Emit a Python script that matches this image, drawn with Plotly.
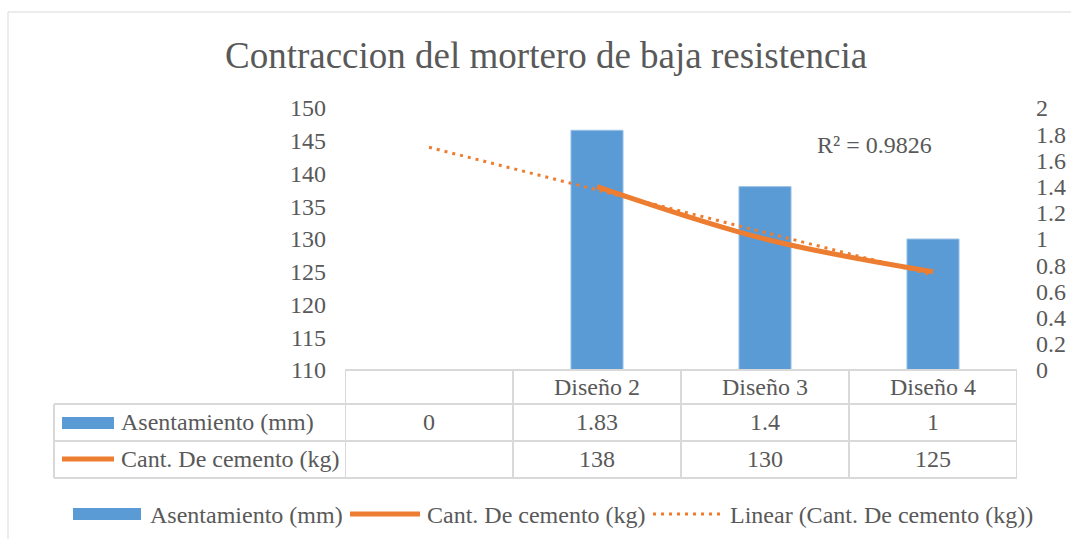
import numpy as np
import plotly.graph_objects as go

# ---- data ----
categories = ["", "Diseño 2", "Diseño 3", "Diseño 4"]
asentamiento = [0, 1.83, 1.4, 1]          # mm (right axis)
cemento = [None, 138, 130, 125]           # kg (left axis)
series_names = ["Asentamiento (mm)", "Cant. De cemento (kg)"]
trend_name = "Linear (Cant. De cemento (kg))"
title_text = "Contraccion del mortero de baja resistencia"

BLUE = "#5B9BD5"
ORANGE = "#ED7D31"
TXT = "#595959"
GRID = "#D9D9D9"
FONT = "Liberation Serif"

W, H = 1071, 539
# plot area in pixel coords
PL, PR, PT, PB = 345, 1017, 108, 370
ML, MR, MT, MB = PL, W - PR, PT, H - PB
PW, PH = PR - PL, PB - PT


def px(x):
    return (x - PL) / PW


def py(y):
    return (PB - y) / PH


xpos = list(range(len(categories)))

# linear trendline (Excel style, x = 1..n)
xs = np.array([i + 1 for i, v in enumerate(cemento) if v is not None], float)
ys = np.array([v for v in cemento if v is not None], float)
slope, intercept = np.polyfit(xs, ys, 1)
pred = slope * xs + intercept
r2 = 1 - np.sum((ys - pred) ** 2) / np.sum((ys - ys.mean()) ** 2)
trend_x = [xpos[0], xpos[-1]]
trend_y = [slope * (xpos[0] + 1) + intercept, slope * (xpos[-1] + 1) + intercept]

fig = go.Figure()
fig.add_trace(go.Bar(x=xpos, y=asentamiento, name=series_names[0],
                     marker=dict(color=BLUE, line=dict(color="#9DC3E6", width=1)),
                     yaxis="y", showlegend=False))
fig.add_trace(go.Scatter(x=xpos, y=cemento, name=series_names[1], mode="lines",
                         line=dict(color=ORANGE, width=5, shape="spline"),
                         yaxis="y2", showlegend=False, connectgaps=False))
fig.add_trace(go.Scatter(x=trend_x, y=trend_y, name=trend_name, mode="lines",
                         line=dict(color=ORANGE, width=3, dash="3px,5px"),
                         yaxis="y2", showlegend=False))

shapes = []
ann = []
lw = 2

# outer chart border
shapes.append(dict(type="rect", xref="paper", yref="paper",
                   x0=px(8), x1=px(1100), y0=py(12), y1=py(600),
                   line=dict(color=GRID, width=1)))

# data table grid
row_lines = [370, 404, 441, 478]
shapes.append(dict(type="line", xref="x", yref="paper", x0=-0.5, x1=len(categories) - 0.5,
                   y0=py(row_lines[0]), y1=py(row_lines[0]), line=dict(color=GRID, width=lw)))
for r in row_lines[1:]:
    shapes.append(dict(type="line", xref="paper", yref="paper", x0=px(54), x1=1,
                       y0=py(r), y1=py(r), line=dict(color=GRID, width=lw)))
for i in range(len(categories) + 1):
    shapes.append(dict(type="line", xref="x", yref="paper", x0=i - 0.5, x1=i - 0.5,
                       y0=py(row_lines[0]), y1=py(row_lines[-1]), line=dict(color=GRID, width=lw)))
shapes.append(dict(type="line", xref="paper", yref="paper", x0=px(54), x1=px(54),
                   y0=py(row_lines[1]), y1=py(row_lines[-1]), line=dict(color=GRID, width=lw)))

font = dict(family=FONT, size=24, color=TXT)
row_centers = [387, 422, 459]
for i, c in enumerate(categories):
    ann.append(dict(x=i, y=py(row_centers[0]), xref="x", yref="paper", text=c,
                    showarrow=False, font=font, xanchor="center", yanchor="middle"))
    ann.append(dict(x=i, y=py(row_centers[1]), xref="x", yref="paper",
                    text=f"{asentamiento[i]:g}", showarrow=False, font=font,
                    xanchor="center", yanchor="middle"))
    v = cemento[i]
    ann.append(dict(x=i, y=py(row_centers[2]), xref="x", yref="paper",
                    text="" if v is None else f"{v:g}", showarrow=False, font=font,
                    xanchor="center", yanchor="middle"))

# series keys in table
shapes.append(dict(type="rect", xref="paper", yref="paper", x0=px(62), x1=px(114),
                   y0=py(417), y1=py(429), fillcolor=BLUE, line=dict(width=0)))
shapes.append(dict(type="line", xref="paper", yref="paper", x0=px(62), x1=px(114),
                   y0=py(459), y1=py(459), line=dict(color=ORANGE, width=5)))
ann.append(dict(x=px(119), y=py(row_centers[1]), xref="paper", yref="paper",
                text=series_names[0], showarrow=False, font=font, xanchor="left", yanchor="middle"))
ann.append(dict(x=px(119), y=py(row_centers[2]), xref="paper", yref="paper",
                text=series_names[1], showarrow=False, font=font, xanchor="left", yanchor="middle"))

# bottom legend
ly = 514
shapes.append(dict(type="rect", xref="paper", yref="paper", x0=px(73), x1=px(141),
                   y0=py(508), y1=py(520), fillcolor=BLUE, line=dict(width=0)))
shapes.append(dict(type="line", xref="paper", yref="paper", x0=px(350), x1=px(420),
                   y0=py(ly), y1=py(ly), line=dict(color=ORANGE, width=5)))
shapes.append(dict(type="line", xref="paper", yref="paper", x0=px(653), x1=px(722),
                   y0=py(ly), y1=py(ly), line=dict(color=ORANGE, width=3, dash="3px,5px")))
for xl, t in [(148, series_names[0]), (425, series_names[1]), (728, trend_name)]:
    ann.append(dict(x=px(xl), y=py(ly + 1), xref="paper", yref="paper", text=t,
                    showarrow=False, font=font, xanchor="left", yanchor="middle"))

# R² label
ann.append(dict(x=px(874), y=py(145), xref="paper", yref="paper",
                text=f"R² = {r2:.4f}", showarrow=False, font=font,
                xanchor="center", yanchor="middle"))

# title
ann.append(dict(x=px(546), y=py(56), xref="paper", yref="paper", text=title_text,
                showarrow=False, font=dict(family=FONT, size=37, color=TXT),
                xanchor="center", yanchor="middle"))

fig.update_layout(
    width=W, height=H,
    margin=dict(l=ML, r=MR, t=MT, b=MB, pad=0, autoexpand=False),
    paper_bgcolor="white", plot_bgcolor="white",
    font=dict(family=FONT, color=TXT),
    bargap=0.69,
    xaxis=dict(range=[-0.5, len(categories) - 0.5], showticklabels=False,
               showgrid=False, zeroline=False, showline=False, ticks="",
               automargin=False),
    yaxis=dict(range=[0, 2], dtick=0.2, side="right", showgrid=False, zeroline=False,
               showline=False, ticks="", ticklabelstandoff=18, automargin=False,
               tickfont=dict(family=FONT, size=24, color=TXT)),
    yaxis2=dict(range=[110, 150], dtick=5, side="left", overlaying="y", showgrid=False,
                zeroline=False, showline=False, ticks="", ticklabelstandoff=18,
                automargin=False,
                tickfont=dict(family=FONT, size=24, color=TXT)),
    shapes=shapes, annotations=ann, showlegend=False,
)

fig.write_html(
    "out.html",
    config={"displayModeBar": False},
    post_script="document.body.style.margin='0px';document.body.style.overflow='hidden';",
)
